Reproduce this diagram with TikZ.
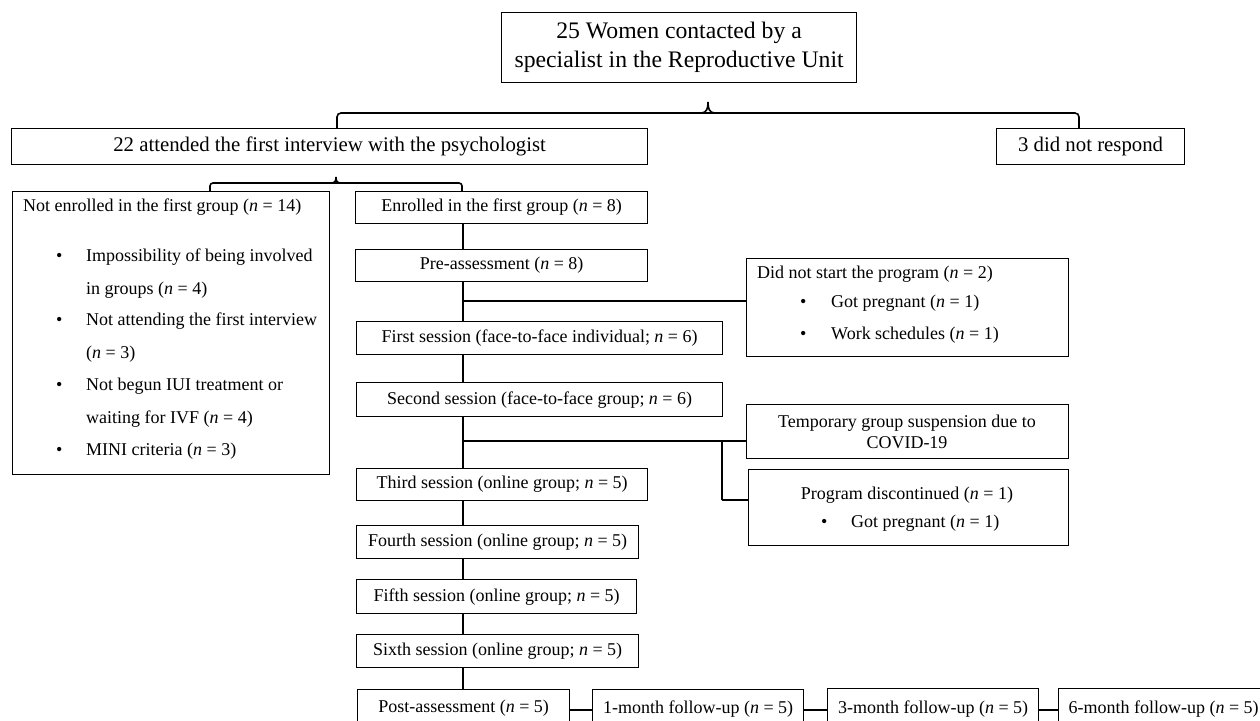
\documentclass[tikz,border=0pt]{standalone}
\usepackage{fontspec}
\setmainfont{Liberation Serif}
\begin{document}
\begin{tikzpicture}[x=1pt,y=-1pt,
  box/.style={draw=black, line width=1.2pt, inner sep=0pt, anchor=north west, font=\fontsize{18}{21}\selectfont},
  big/.style={font=\fontsize{20.8}{24}\selectfont},
  txt/.style={inner sep=0pt, font=\fontsize{18}{21}\selectfont},
  spine/.style={line width=2.4pt},
  thin/.style={line width=1.5pt},
  brace/.style={line width=1.6pt}]
\useasboundingbox (0,0) rectangle (1260,720);
\clip (0,0) rectangle (1260,720);

% top level
\node[box, minimum width=355, minimum height=70, align=center, font=\fontsize{23.7}{29}\selectfont] (title) at (501,12) {25 Women contacted by a\\specialist in the Reproductive Unit};
\node[box, big, minimum width=636, minimum height=36] (att) at (11,128) {22 attended the first interview with the psychologist};
\node[box, big, minimum width=188, minimum height=36] (dnr) at (996,128) {3 did not respond};

% second level
\node[box, minimum width=317, minimum height=283] (ne) at (12,191) {};
\node[box, minimum width=292, minimum height=32] (en) at (355,191) {Enrolled in the first group (\textit{n} = 8)};
\node[box, minimum width=292, minimum height=32] (pre) at (355,249) {Pre-assessment (\textit{n} = 8)};
\node[box, minimum width=366, minimum height=33] (fs) at (356,321) {First session (face-to-face individual; \textit{n} = 6)};
\node[box, minimum width=366, minimum height=34] (ss) at (356,382) {Second session (face-to-face group; \textit{n} = 6)};
\node[box, minimum width=291, minimum height=32] (ts) at (356,468) {Third session (online group; \textit{n} = 5)};
\node[box, minimum width=282, minimum height=33] (fo) at (356,525) {Fourth session (online group; \textit{n} = 5)};
\node[box, minimum width=280, minimum height=34] (fi) at (356,579) {Fifth session (online group; \textit{n} = 5)};
\node[box, minimum width=282, minimum height=33] (si) at (356,634) {Sixth session (online group; \textit{n} = 5)};
\node[box, minimum width=212, minimum height=38] (post) at (357,689) {Post-assessment (\textit{n} = 5)};
\node[box, minimum width=211, minimum height=38] (m1) at (592,689) {1-month follow-up (\textit{n} = 5)};
\node[box, minimum width=211, minimum height=40] (m3) at (827,688) {3-month follow-up (\textit{n} = 5)};
\node[box, minimum width=210, minimum height=40] (m6) at (1058,688) {6-month follow-up (\textit{n} = 5)};

% right boxes
\node[box, minimum width=322, minimum height=98] (dns) at (746,258) {};
\node[box, minimum width=322, minimum height=54] (tmp) at (746,404) {};
\node[box, minimum width=320, minimum height=76] (pd) at (748,469) {};

% texts in Not enrolled box
\node[txt, anchor=mid west] (ne0) at (23,209) {Not enrolled in the first group (\textit{n} = 14)};
\node[txt, anchor=mid west] (nb1) at (56,259) {•};
\node[txt, anchor=mid west] (nb2) at (56,323) {•};
\node[txt, anchor=mid west] (nb3) at (56,388) {•};
\node[txt, anchor=mid west] (nb4) at (56,453) {•};
\node[txt, anchor=mid west] (ne1) at (86,259) {Impossibility of being involved};
\node[txt, anchor=mid west] (ne2) at (86,292) {in groups (\textit{n} = 4)};
\node[txt, anchor=mid west] (ne3) at (86,323) {Not attending the first interview};
\node[txt, anchor=mid west] (ne4) at (86,356) {(\textit{n} = 3)};
\node[txt, anchor=mid west] (ne5) at (86,388) {Not begun IUI treatment or};
\node[txt, anchor=mid west] (ne6) at (86,421) {waiting for IVF (\textit{n} = 4)};
\node[txt, anchor=mid west] (ne7) at (86,453) {MINI criteria (\textit{n} = 3)};

% texts in Did not start box
\node[txt, anchor=mid west] (dn0) at (757,276) {Did not start the program (\textit{n} = 2)};
\node[txt, anchor=mid west] (db1) at (800,305) {•};
\node[txt, anchor=mid west] (db2) at (800,337) {•};
\node[txt, anchor=mid west] (dn1) at (831,305) {Got pregnant (\textit{n} = 1)};
\node[txt, anchor=mid west] (dn2) at (831,337) {Work schedules (\textit{n} = 1)};

% temporary suspension
\node[txt] (tm1) at (907,423) {Temporary group suspension due to};
\node[txt] (tm2) at (907,443) {COVID-19};

% program discontinued
\node[txt] (pd0) at (907,495) {Program discontinued (\textit{n} = 1)};
\node[txt, anchor=mid west] (pb1) at (821,525) {•};
\node[txt, anchor=mid west] (pd1) at (851,525) {Got pregnant (\textit{n} = 1)};

% top brace
\coordinate (bL) at (337,113);
\coordinate (bR) at (1079,113);
\draw[brace, rounded corners=4] (bL |- att.north) -- (bL) -- (bR) -- (bR |- dnr.north);
\draw[brace] (701,113) .. controls (707,113) and (708,108) .. (708,102) .. controls (708,108) and (709,113) .. (715,113);

% second brace
\coordinate (cL) at (210,183);
\coordinate (cR) at (462,183);
\draw[brace, rounded corners=3] (cL |- ne.north) -- (cL) -- (cR) -- (cR |- en.north);
\draw[brace] (331,183) .. controls (335,183) and (336,181) .. (336,177) .. controls (336,181) and (337,183) .. (341,183);

% spine
\coordinate (sp) at (463,0);
\draw[spine] (sp |- en.south) -- (sp |- pre.north);
\draw[spine] (sp |- pre.south) -- (sp |- fs.north);
\draw[spine] (sp |- fs.south) -- (sp |- ss.north);
\draw[spine] (sp |- ss.south) -- (sp |- ts.north);
\draw[spine] (sp |- ts.south) -- (sp |- fo.north);
\draw[spine] (sp |- fo.south) -- (sp |- fi.north);
\draw[spine] (sp |- fi.south) -- (sp |- si.north);
\draw[spine] (sp |- si.south) -- (sp |- post.north);

% branches
\coordinate (b1) at (463,301);
\draw[thin] (b1) -- (b1 -| dns.west);
\coordinate (b2) at (463,441);
\draw[thin] (b2) -- (b2 -| tmp.west);
\coordinate (b3) at (722,441);
\coordinate (b4) at (722,500);
\draw[spine] (b3) -- (b4);
\draw[thin] (b4) -- (b4 -| pd.west);

% bottom row
\coordinate (h) at (0,710);
\draw[line width=2pt] (h -| post.east) -- (h -| m1.west);
\draw[line width=2pt] (h -| m1.east) -- (h -| m3.west);
\draw[line width=2pt] (h -| m3.east) -- (h -| m6.west);
\end{tikzpicture}
\end{document}
